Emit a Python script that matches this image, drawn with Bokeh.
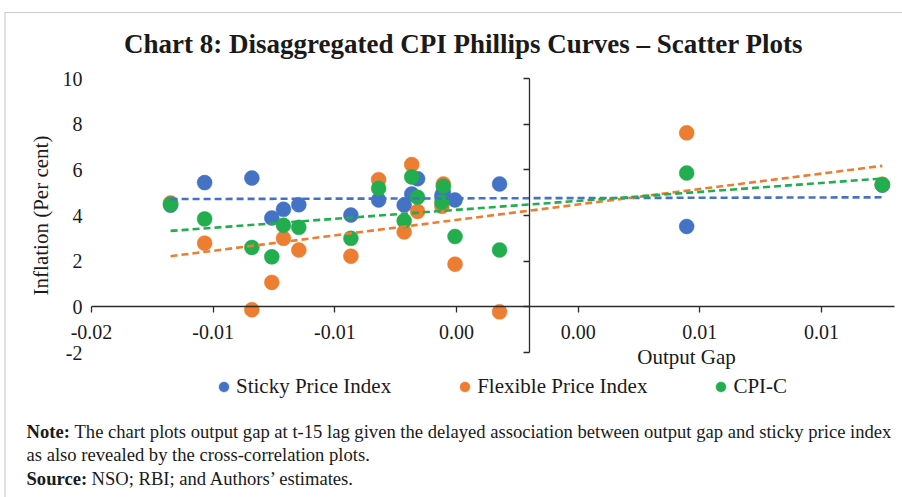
import numpy as np
from bokeh.plotting import figure
from bokeh.models import (LinearAxis, FixedTicker, Label, Legend, LegendItem,
                          Range1d, BoxAnnotation)
from bokeh.embed import file_html
from bokeh.resources import INLINE

# ---------------- data ----------------
output_gap = [-0.01475, -0.01335, -0.01141, -0.01059, -0.01011, -0.00948,
              -0.00734, -0.00620, -0.00515, -0.00484, -0.00460, -0.00360,
              -0.00354, -0.00306, -0.00123, 0.00646, 0.01450]
sticky_price = [4.45, 5.44, 5.64, 3.89, 4.27, 4.47, 4.02, 4.68, 4.46, 4.94,
                5.61, 4.88, 5.00, 4.68, 5.38, 3.52, 5.33]
flexible_price = [4.55, 2.79, -0.13, 1.07, 3.00, 2.49, 2.22, 5.57, 3.28, 6.23,
                  4.18, 4.40, 5.38, 1.87, -0.22, 7.62, 5.37]
cpi_c = [4.50, 3.85, 2.60, 2.19, 3.57, 3.48, 3.00, 5.19, 3.77, 5.69, 4.80,
         4.58, 5.28, 3.08, 2.49, 5.86, 5.35]
series_names = ["Sticky Price Index", "Flexible Price Index", "CPI-C"]
series_colors = ["#4472C4", "#ED7D31", "#22AD4F"]

x_min, x_max = -0.018, 0.015
y_min, y_max = -2, 10
x_tick_values = [-0.018, -0.013, -0.008, -0.003, 0.002, 0.007, 0.012]
x_tick_labels = ["-0.02", "-0.01", "-0.01", "0.00", "0.00", "0.01", "0.01"]
y_tick_values = [-2, 0, 2, 4, 6, 8, 10]
y_tick_labels = ["-2", "0", "2", "4", "6", "8", "10"]

title_text = "Chart 8: Disaggregated CPI Phillips Curves \u2013 Scatter Plots"
x_title = "Output Gap"
y_title = "Inflation (Per cent)"
note_lines = [
    ("Note:", "The chart plots output gap at t-15 lag given the delayed association between output gap and sticky price index"),
    ("", "as also revealed by the cross-correlation plots."),
    ("Source:", "NSO; RBI; and Authors\u2019 estimates."),
]

# ---------------- layout (pixels) ----------------
W, H = 902, 497
PL, PR, PT, PB = 91, 894, 78, 352     # plot-area box inside the canvas
FONT = "Liberation Serif"
TXT = "#1a1a1a"
AX = "#2b2b2b"

xpp = (x_max - x_min) / (PR - PL)
ypp = (y_max - y_min) / (PB - PT)
xr = Range1d(x_min - PL * xpp, x_max + (W - PR) * xpp)
yr = Range1d(y_min - (H - PB) * ypp, y_max + PT * ypp)

p = figure(width=W, height=H, x_range=xr, y_range=yr,
           x_axis_type=None, y_axis_type=None,
           output_backend="svg", toolbar_location=None,
           min_border_left=0, min_border_right=0,
           min_border_top=0, min_border_bottom=0)
p.outline_line_color = None
p.background_fill_color = "white"
p.border_fill_color = "white"

# y tick labels at the left edge of the plot area
yl = LinearAxis(fixed_location=x_min, bounds=(y_min, y_max),
                ticker=FixedTicker(ticks=y_tick_values),
                major_label_overrides={v: s for v, s in zip(y_tick_values, y_tick_labels)},
                axis_line_color=None, major_tick_line_color=None,
                minor_tick_line_color=None, major_tick_in=0, major_tick_out=0,
                major_label_standoff=9,
                major_label_text_font=FONT, major_label_text_font_size="20px",
                major_label_text_color=TXT,
                axis_label=y_title, axis_label_text_font=FONT,
                axis_label_text_font_size="21px",
                axis_label_text_font_style="normal",
                axis_label_text_color=TXT, axis_label_standoff=7)
p.add_layout(yl, "left")

# vertical axis line crossing at x = 0
y0 = LinearAxis(fixed_location=0, bounds=(y_min, y_max),
                ticker=FixedTicker(ticks=y_tick_values),
                major_label_text_color=None, major_label_text_font_size="1px",
                major_tick_in=0, major_tick_out=6,
                minor_tick_line_color=None,
                axis_line_color=AX, major_tick_line_color=AX,
                axis_line_width=1.3, major_tick_line_width=1.3)
p.add_layout(y0, "left")

# horizontal axis crossing at y = 0
xa = LinearAxis(fixed_location=0, bounds=(x_min, x_max),
                ticker=FixedTicker(ticks=x_tick_values),
                major_label_overrides={v: s for v, s in zip(x_tick_values, x_tick_labels)},
                major_tick_in=0, major_tick_out=6, minor_tick_line_color=None,
                axis_line_color=AX, major_tick_line_color=AX,
                axis_line_width=1.3, major_tick_line_width=1.3,
                major_label_standoff=12,
                major_label_text_font=FONT, major_label_text_font_size="20px",
                major_label_text_color=TXT)
p.add_layout(xa, "below")

# scatter series
renderers = []
for vals, col in zip([sticky_price, flexible_price, cpi_c], series_colors):
    r = p.scatter(output_gap, vals, size=15, fill_color=col, line_color=col,
                  line_width=0.5)
    renderers.append(r)

# linear trend lines
xs = np.array(output_gap)
for vals, col in zip([sticky_price, flexible_price, cpi_c], series_colors):
    m, b = np.polyfit(xs, np.array(vals), 1)
    xe = [float(xs.min()), float(xs.max())]
    p.line(xe, [m * x + b for x in xe], line_dash="7 4", line_width=2.6,
           line_color=col)

# legend (screen units measured from the canvas bottom-left)
legend = Legend(items=[LegendItem(label=n, renderers=[r])
                       for n, r in zip(series_names, renderers)],
                orientation="horizontal", location=(211, 98),
                glyph_width=25, glyph_height=25, label_standoff=-2,
                spacing=61, padding=0, margin=0,
                border_line_color=None, background_fill_alpha=0,
                label_text_font=FONT, label_text_font_size="21px",
                label_text_color=TXT)
p.add_layout(legend)

def sy(img_y):
    return H - img_y

# title
p.add_layout(Label(x=463, y=sy(43), x_units="screen", y_units="screen",
                   text=title_text, text_align="center", text_baseline="middle",
                   text_font=FONT, text_font_style="bold",
                   text_font_size="27px", text_color=TXT))

# x axis title
p.add_layout(Label(x=686, y=sy(356), x_units="screen", y_units="screen",
                   text=x_title, text_align="center", text_baseline="middle",
                   text_font=FONT, text_font_size="21px", text_color=TXT))

# notes
note_y = [431, 454, 478]
for (bold, rest), yy in zip(note_lines, note_y):
    if bold:
        p.add_layout(Label(x=26, y=sy(yy), x_units="screen", y_units="screen",
                           text=bold, text_align="left", text_baseline="middle",
                           text_font=FONT, text_font_style="bold",
                           text_font_size="18.6px", text_color=TXT))
        off = 74 if bold == "Note:" else 91
    else:
        off = 26
    p.add_layout(Label(x=off, y=sy(yy), x_units="screen", y_units="screen",
                       text=rest, text_align="left", text_baseline="middle",
                       text_font=FONT, text_font_size="18.6px", text_color=TXT))

# outer chart border
p.add_layout(BoxAnnotation(left=4.5, right=W + 10, top=sy(12), bottom=-10,
                           left_units="screen", right_units="screen",
                           top_units="screen", bottom_units="screen",
                           fill_alpha=0, line_color="#555555", line_width=1.2))

open("out.html", "w").write(file_html(p, INLINE))
